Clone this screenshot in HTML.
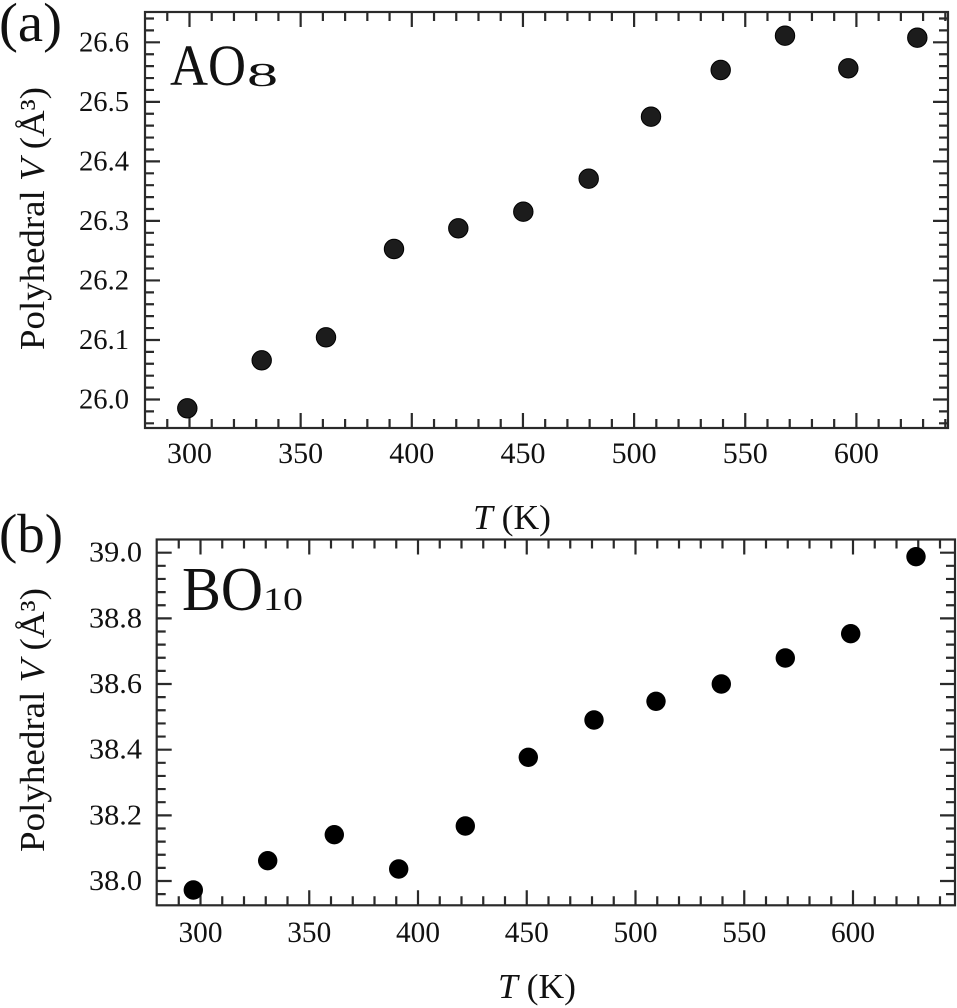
<!DOCTYPE html>
<html>
<head>
<meta charset="utf-8">
<style>
  html, body { margin: 0; padding: 0; background: #ffffff; }
  svg { display: block; font-family: "Liberation Serif", "Times New Roman", Times, serif; }
  text { font-family: "Liberation Serif", "Times New Roman", Times, serif; fill: #111; }
</style>
</head>
<body>
<svg width="957" height="1008" viewBox="0 0 957 1008" xmlns="http://www.w3.org/2000/svg" font-family="Liberation Serif, serif">
  <defs>
    <path id="tbx" stroke="#2a2a2a" stroke-width="2.2" fill="none"
      d="M189.5 428v-15M300.65 428v-15M411.8 428v-15M522.95 428v-15M634.1 428v-15M745.25 428v-15M856.4 428v-15
         M167.27 428v-9M211.73 428v-9M233.96 428v-9M256.19 428v-9M278.42 428v-9M322.88 428v-9M345.11 428v-9M367.34 428v-9M389.57 428v-9
         M434.03 428v-9M456.26 428v-9M478.49 428v-9M500.72 428v-9M545.18 428v-9M567.41 428v-9M589.64 428v-9M611.87 428v-9
         M656.33 428v-9M678.56 428v-9M700.79 428v-9M723.02 428v-9M767.48 428v-9M789.71 428v-9M811.94 428v-9M834.17 428v-9
         M878.63 428v-9M900.86 428v-9M923.09 428v-9M945.32 428v-9"/>
    <path id="tly" stroke="#2a2a2a" stroke-width="2.2" fill="none"
      d="M145 399.5h15M145 339.97h15M145 280.44h15M145 220.91h15M145 161.38h15M145 101.85h15M145 42.32h15
         M145 423.31h9M145 411.41h9M145 387.59h9M145 375.69h9M145 363.78h9M145 351.88h9M145 328.06h9M145 316.16h9M145 304.25h9M145 292.35h9
         M145 268.53h9M145 256.63h9M145 244.72h9M145 232.82h9M145 209h9M145 197.1h9M145 185.19h9M145 173.29h9
         M145 149.47h9M145 137.57h9M145 125.66h9M145 113.76h9M145 89.94h9M145 78.04h9M145 66.13h9M145 54.23h9M145 30.41h9M145 18.51h9"/>
    <path id="bbx" stroke="#2a2a2a" stroke-width="2.2" fill="none"
      d="M200.5 905.3v-15M309.25 905.3v-15M418 905.3v-15M526.75 905.3v-15M635.5 905.3v-15M744.25 905.3v-15M853 905.3v-15
         M178.75 905.3v-9M222.25 905.3v-9M244 905.3v-9M265.75 905.3v-9M287.5 905.3v-9M331 905.3v-9M352.75 905.3v-9M374.5 905.3v-9M396.25 905.3v-9
         M439.75 905.3v-9M461.5 905.3v-9M483.25 905.3v-9M505 905.3v-9M548.5 905.3v-9M570.25 905.3v-9M592 905.3v-9M613.75 905.3v-9
         M657.25 905.3v-9M679 905.3v-9M700.75 905.3v-9M722.5 905.3v-9M766 905.3v-9M787.75 905.3v-9M809.5 905.3v-9M831.25 905.3v-9
         M874.75 905.3v-9M896.5 905.3v-9M918.25 905.3v-9M940 905.3v-9"/>
    <path id="bly" stroke="#2a2a2a" stroke-width="2.2" fill="none"
      d="M156.7 881h15M156.7 815.34h15M156.7 749.68h15M156.7 684.02h15M156.7 618.36h15M156.7 552.7h15
         M156.7 894.13h9M156.7 867.87h9M156.7 854.74h9M156.7 841.6h9M156.7 828.47h9M156.7 802.21h9M156.7 789.08h9M156.7 775.94h9M156.7 762.81h9
         M156.7 736.55h9M156.7 723.42h9M156.7 710.28h9M156.7 697.15h9M156.7 670.89h9M156.7 657.76h9M156.7 644.62h9M156.7 631.49h9
         M156.7 605.23h9M156.7 592.1h9M156.7 578.96h9M156.7 565.83h9"/>
  </defs>

  <!-- ================= PANEL (a) ================= -->
  <rect x="145" y="12" width="803" height="416" fill="none" stroke="#2a2a2a" stroke-width="2.2"/>
  <use href="#tbx"/>
  <use href="#tbx" transform="matrix(1 0 0 -1 0 440)"/>
  <use href="#tly"/>
  <use href="#tly" transform="matrix(-1 0 0 1 1093 0)"/>

  <g font-size="29" text-anchor="end">
    <text x="129" y="408.5" textLength="50" lengthAdjust="spacingAndGlyphs">26.0</text>
    <text x="129" y="349" textLength="50" lengthAdjust="spacingAndGlyphs">26.1</text>
    <text x="129" y="289.4" textLength="50" lengthAdjust="spacingAndGlyphs">26.2</text>
    <text x="129" y="229.9" textLength="50" lengthAdjust="spacingAndGlyphs">26.3</text>
    <text x="129" y="170.4" textLength="50" lengthAdjust="spacingAndGlyphs">26.4</text>
    <text x="129" y="110.9" textLength="50" lengthAdjust="spacingAndGlyphs">26.5</text>
    <text x="129" y="51.3" textLength="50" lengthAdjust="spacingAndGlyphs">26.6</text>
  </g>
  <g font-size="30" text-anchor="middle">
    <text x="189.5" y="463" textLength="45" lengthAdjust="spacingAndGlyphs">300</text>
    <text x="300.65" y="463" textLength="45" lengthAdjust="spacingAndGlyphs">350</text>
    <text x="411.8" y="463" textLength="45" lengthAdjust="spacingAndGlyphs">400</text>
    <text x="522.95" y="463" textLength="45" lengthAdjust="spacingAndGlyphs">450</text>
    <text x="634.1" y="463" textLength="45" lengthAdjust="spacingAndGlyphs">500</text>
    <text x="745.25" y="463" textLength="45" lengthAdjust="spacingAndGlyphs">550</text>
    <text x="856.4" y="463" textLength="45" lengthAdjust="spacingAndGlyphs">600</text>
  </g>

  <text x="473" y="529" font-size="35" textLength="78" lengthAdjust="spacingAndGlyphs"><tspan font-style="italic">T</tspan> (K)</text>
  <text x="44" y="350" font-size="35" transform="rotate(-90 44 350)" textLength="263" lengthAdjust="spacingAndGlyphs">Polyhedral <tspan font-style="italic">V</tspan> (Å³)</text>

  <text x="-1" y="41" font-size="55" textLength="63" lengthAdjust="spacingAndGlyphs">(a)</text>
  <text x="170" y="85" font-size="58" textLength="76" lengthAdjust="spacingAndGlyphs">AO</text>
  <text x="247" y="86" font-size="34" textLength="31" lengthAdjust="spacingAndGlyphs">8</text>

  <g fill="#1c1c1c" stroke="#000" stroke-width="1">
    <circle cx="187.3" cy="408.3" r="9.7"/>
    <circle cx="261.7" cy="360.3" r="9.7"/>
    <circle cx="326" cy="337.3" r="9.7"/>
    <circle cx="394" cy="249" r="9.7"/>
    <circle cx="458.3" cy="228.3" r="9.7"/>
    <circle cx="523.3" cy="211.7" r="9.7"/>
    <circle cx="588.7" cy="178.7" r="9.7"/>
    <circle cx="651" cy="116.7" r="9.7"/>
    <circle cx="720.7" cy="70" r="9.7"/>
    <circle cx="785" cy="35.7" r="9.7"/>
    <circle cx="848.3" cy="68.3" r="9.7"/>
    <circle cx="917.3" cy="37.7" r="9.7"/>
  </g>

  <!-- ================= PANEL (b) ================= -->
  <rect x="156.7" y="539.5" width="798.3" height="365.8" fill="none" stroke="#2a2a2a" stroke-width="2.2"/>
  <use href="#bbx"/>
  <use href="#bbx" transform="matrix(1 0 0 -1 0 1444.8)"/>
  <use href="#bly"/>
  <use href="#bly" transform="matrix(-1 0 0 1 1111.7 0)"/>

  <g font-size="29" text-anchor="end">
    <text x="142" y="890" textLength="53" lengthAdjust="spacingAndGlyphs">38.0</text>
    <text x="142" y="824.3" textLength="53" lengthAdjust="spacingAndGlyphs">38.2</text>
    <text x="142" y="758.7" textLength="53" lengthAdjust="spacingAndGlyphs">38.4</text>
    <text x="142" y="693" textLength="53" lengthAdjust="spacingAndGlyphs">38.6</text>
    <text x="142" y="627.4" textLength="53" lengthAdjust="spacingAndGlyphs">38.8</text>
    <text x="142" y="561.7" textLength="53" lengthAdjust="spacingAndGlyphs">39.0</text>
  </g>
  <g font-size="30" text-anchor="middle">
    <text x="200.5" y="942" textLength="44" lengthAdjust="spacingAndGlyphs">300</text>
    <text x="309.25" y="942" textLength="44" lengthAdjust="spacingAndGlyphs">350</text>
    <text x="418" y="942" textLength="44" lengthAdjust="spacingAndGlyphs">400</text>
    <text x="526.75" y="942" textLength="44" lengthAdjust="spacingAndGlyphs">450</text>
    <text x="635.5" y="942" textLength="44" lengthAdjust="spacingAndGlyphs">500</text>
    <text x="744.25" y="942" textLength="44" lengthAdjust="spacingAndGlyphs">550</text>
    <text x="853" y="942" textLength="44" lengthAdjust="spacingAndGlyphs">600</text>
  </g>

  <text x="498" y="998" font-size="35" textLength="78" lengthAdjust="spacingAndGlyphs"><tspan font-style="italic">T</tspan> (K)</text>
  <text x="44" y="852" font-size="35" transform="rotate(-90 44 852)" textLength="264" lengthAdjust="spacingAndGlyphs">Polyhedral <tspan font-style="italic">V</tspan> (Å³)</text>

  <text x="-1" y="552" font-size="55" textLength="64" lengthAdjust="spacingAndGlyphs">(b)</text>
  <text x="182" y="610" font-size="62" textLength="81" lengthAdjust="spacingAndGlyphs">BO</text>
  <text x="263" y="610" font-size="33" textLength="40" lengthAdjust="spacingAndGlyphs">10</text>

  <g fill="#000">
    <circle cx="193.3" cy="890" r="9.7"/>
    <circle cx="267.7" cy="860.7" r="9.7"/>
    <circle cx="334.3" cy="834.7" r="9.7"/>
    <circle cx="398.7" cy="869" r="9.7"/>
    <circle cx="465.3" cy="826" r="9.7"/>
    <circle cx="528.3" cy="757.3" r="9.7"/>
    <circle cx="594" cy="720" r="9.7"/>
    <circle cx="656" cy="701.3" r="9.7"/>
    <circle cx="721.3" cy="684" r="9.7"/>
    <circle cx="785.3" cy="658" r="9.7"/>
    <circle cx="850.7" cy="633.7" r="9.7"/>
    <circle cx="916" cy="556.7" r="9.7"/>
  </g>
</svg>
</body>
</html>
